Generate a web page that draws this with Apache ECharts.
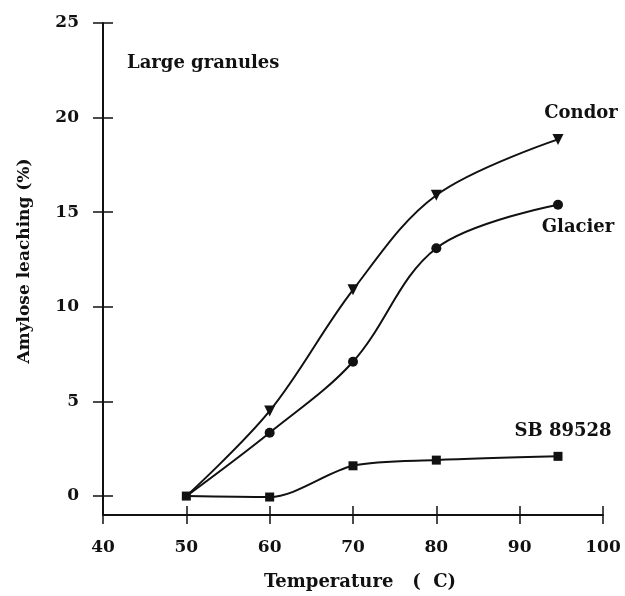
<!DOCTYPE html>
<html>
<head>
<meta charset="utf-8">
<script src="https://cdn.jsdelivr.net/npm/echarts@6/dist/echarts.min.js"></script>
<style>
  html, body { margin: 0; padding: 0; background: #fff; }
  #chart { width: 625px; height: 596px; }
</style>
</head>
<body>
<div id="chart"></div>
<script>
// temperatures (C)
var temps = [50, 60, 70, 80, 94.6];
// amylose leaching (%)
var condor = [0, 4.5, 10.9, 15.9, 18.85];
var glacier = [0, 3.35, 7.1, 13.1, 15.4];
var sb89528 = [0, -0.05, 1.6, 1.9, 2.1];
var yTicks = [0, 5, 10, 15, 20, 25];

var font = "DejaVu Serif";
var ink = "#111";

function pairs(ys, hideFirst) {
  return ys.map(function (y, i) {
    var item = { value: [temps[i], y] };
    if (hideFirst && i === 0) item.symbol = "none";
    return item;
  });
}

function endLabel(text, offset) {
  return {
    show: true,
    formatter: function (p) { return p.dataIndex === temps.length - 1 ? text : ""; },
    position: "inside",
    offset: offset,
    fontFamily: font, fontSize: 18, fontWeight: "bold", color: ink
  };
}

var chart = echarts.init(document.getElementById("chart"));
var lineStyle = { color: ink, width: 2 };
var txt = { fontFamily: font, fontSize: 17, fontWeight: "bold", color: ink };

chart.setOption({
  animation: false,
  grid: { left: 103, right: 22, top: 23, bottom: 76 },
  graphic: [{
    type: "text", left: 127, top: 54,
    style: { text: "Large granules", font: "bold 18px " + font, fill: ink }
  }],
  xAxis: [{
    type: "value", min: 40, max: 100, interval: 10,
    name: "Temperature   (  C)", nameLocation: "middle", nameGap: 58,
    nameTextStyle: Object.assign({}, txt, { fontSize: 18, padding: [0, 0, 0, 14] }),
    axisLine: { onZero: false, lineStyle: { color: ink, width: 2 } },
    axisTick: { length: 9, lineStyle: { color: ink, width: 1.5 } },
    axisLabel: Object.assign({ margin: 24 }, txt),
    splitLine: { show: false }
  }, {
    type: "value", min: 40, max: 100, interval: 10, position: "bottom",
    axisLine: { show: false, onZero: false },
    axisTick: { inside: true, length: 9, lineStyle: { color: ink, width: 1.5 } },
    axisLabel: { show: false }, splitLine: { show: false }
  }],
  yAxis: [{
    type: "value", min: -1, max: 25,
    name: "Amylose leaching (%)", nameLocation: "middle", nameGap: 70,
    nameTextStyle: Object.assign({}, txt, { padding: [0, 0, 0, 16] }),
    axisLine: { onZero: false, lineStyle: { color: ink, width: 2 } },
    axisTick: { length: 10, customValues: yTicks, lineStyle: { color: ink, width: 1.5 } },
    axisLabel: Object.assign({ margin: 24, customValues: yTicks }, txt),
    splitLine: { show: false }
  }, {
    type: "value", min: -1, max: 25, position: "left",
    axisLine: { show: false, onZero: false },
    axisTick: { inside: true, length: 10, customValues: yTicks, lineStyle: { color: ink, width: 1.5 } },
    axisLabel: { show: false }, splitLine: { show: false }
  }],
  series: [{
    name: "Condor", type: "line", smooth: 0.35,
    data: pairs(condor, true),
    symbol: "triangle", symbolSize: 11, symbolRotate: 180,
    itemStyle: { color: ink }, lineStyle: lineStyle,
    label: endLabel("Condor", [23, -26])
  }, {
    name: "Glacier", type: "line", smooth: 0.35,
    data: pairs(glacier, true),
    symbol: "circle", symbolSize: 10,
    itemStyle: { color: ink }, lineStyle: lineStyle,
    label: endLabel("Glacier", [20, 23])
  }, {
    name: "SB 89528", type: "line", smooth: 0.3,
    data: pairs(sb89528, false),
    symbol: "rect", symbolSize: 9,
    itemStyle: { color: ink }, lineStyle: lineStyle,
    label: endLabel("SB 89528", [5, -25])
  }]
});
</script>
</body>
</html>
